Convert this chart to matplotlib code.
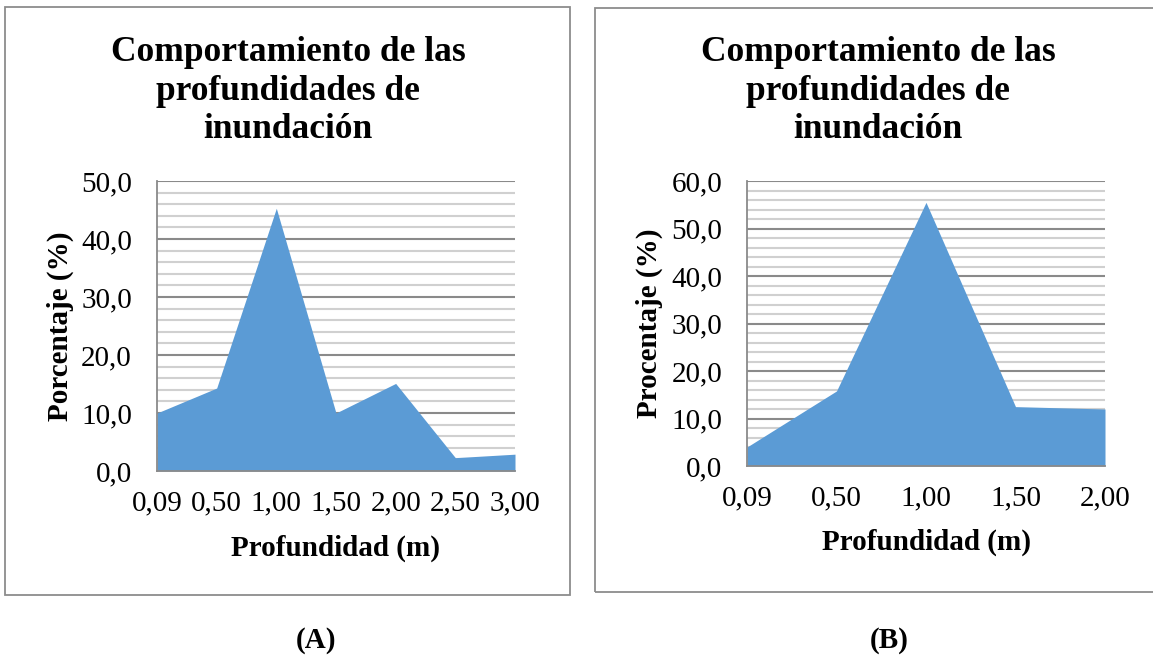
import matplotlib
matplotlib.use("Agg")
import matplotlib.pyplot as plt
from matplotlib.patches import Rectangle
import numpy as np

plt.rcParams['font.family'] = ['Liberation Serif', 'DejaVu Serif']

# Data
cats_a = ["0,09", "0,50", "1,00", "1,50", "2,00", "2,50", "3,00"]
vals_a = [10.0, 14.3, 45.3, 10.0, 15.1, 2.3, 2.9]
cats_b = ["0,09", "0,50", "1,00", "1,50", "2,00"]
vals_b = [4.0, 15.8, 55.5, 12.5, 12.0]

title = "Comportamiento de las\nprofundidades de\ninundación"
xlabel = "Profundidad (m)"
ylabel_a = "Porcentaje (%)"
ylabel_b = "Procentaje (%)"

W, H = 1153, 655
fig = plt.figure(figsize=(W / 100, H / 100), dpi=100)

def fx(px):
    return px / W

def fy(py):
    return 1 - py / H

# frame boxes
for (x0, y0, x1, y1) in [(5, 7, 570, 595), (595, 8, 1160, 592)]:
    fig.patches.append(Rectangle((fx(x0), fy(y1)), fx(x1) - fx(x0), fy(y0) - fy(y1),
                                 transform=fig.transFigure, fill=False,
                                 edgecolor='#8c8c8c', linewidth=1.3))

FILL = '#5B9BD5'

def panel(rect, cats, vals, ymax, ylabel, title_x, ylab_x, xlab_y):
    x0, top, x1, bot = rect
    ax = fig.add_axes([fx(x0), fy(bot), fx(x1) - fx(x0), fy(top) - fy(bot)])
    x = np.arange(len(cats))
    ax.set_xlim(0, len(cats) - 1)
    ax.set_ylim(0, ymax)
    # gridlines
    for v in np.arange(2, ymax + 0.1, 2):
        major = abs(v % 10) < 1e-9
        ax.axhline(v, color='#8a8a8a' if major else '#d0d0d0', lw=1.5, zorder=0)
    ax.fill_between(x, vals, 0, color=FILL, lw=0, zorder=2)
    for s in ['top', 'right']:
        ax.spines[s].set_visible(False)
    for s in ['left', 'bottom']:
        ax.spines[s].set_color('#8a8a8a')
        ax.spines[s].set_linewidth(1.3)
    ax.set_yticks(np.arange(0, ymax + 0.1, 10))
    ax.set_yticklabels([f"{v:.1f}".replace('.', ',') for v in np.arange(0, ymax + 0.1, 10)],
                       fontsize=21)
    ax.tick_params(axis='y', length=0, pad=18)
    ax.set_xticks(x)
    ax.set_xticklabels(cats, fontsize=21)
    ax.tick_params(axis='x', length=0, pad=14)
    ax.set_facecolor('white')
    # labels
    fig.text(fx(ylab_x), fy((top + bot) / 2), ylabel, rotation=90, ha='center', va='center',
             fontsize=21, fontweight='bold')
    fig.text(fx((x0 + x1) / 2), fy(xlab_y), xlabel, ha='center', va='center',
             fontsize=21, fontweight='bold')
    fig.text(fx(title_x), fy(91), title, ha='center', va='center', fontsize=25.5,
             fontweight='bold', linespacing=1.23)
    return ax

panel((157, 181, 515, 471), cats_a, vals_a, 50, ylabel_a, 288, 60, 548)
panel((747, 181, 1105, 466), cats_b, vals_b, 60, ylabel_b, 878, 649, 542)

fig.text(fx(316), fy(640), "(A)", ha='center', va='center', fontsize=21, fontweight='bold')
fig.text(fx(889), fy(640), "(B)", ha='center', va='center', fontsize=21, fontweight='bold')

fig.savefig("out.png", dpi=100, facecolor='white')
